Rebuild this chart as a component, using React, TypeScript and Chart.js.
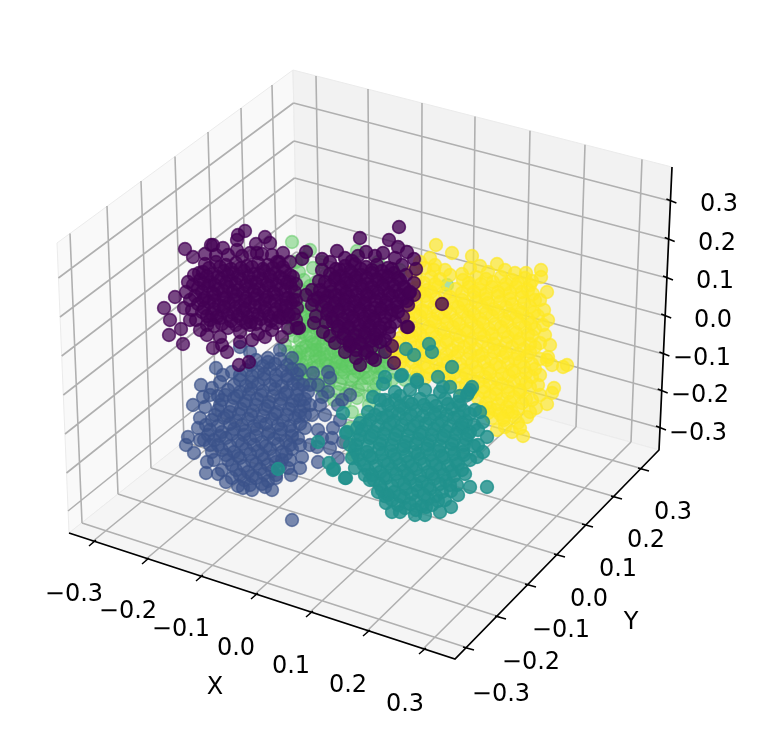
import React, { useEffect, useRef } from "react";
import { Chart, registerables } from "chart.js";

Chart.register(...registerables);

type P = number[];

const xTickLabels = ["\u22120.3", "\u22120.2", "\u22120.1", "0.0", "0.1", "0.2", "0.3"];
const yTickLabels = ["\u22120.3", "\u22120.2", "\u22120.1", "0.0", "0.1", "0.2", "0.3"];
const zTickLabels = ["0.3", "0.2", "0.1", "0.0", "\u22120.1", "\u22120.2", "\u22120.3"];

// projected frame of the 3D box, in picture units
const paneLeft: P[] = [[57, 243], [293, 70], [299, 350], [69, 533]];
const paneRight: P[] = [[293, 70], [672, 167], [659, 450], [299, 350]];
const paneFloor: P[] = [[69, 533], [299, 350], [659, 450], [455, 659]];
const axisPath: P[] = [[69, 533], [455, 659], [659, 450], [672, 167]];

const xTicks: P[] = [[92, 542], [145, 560], [199, 577], [254, 595], [309, 613], [366, 632], [422, 650]];
const yTicks: P[] = [[468, 648], [500, 617], [530, 585], [559, 555], [587, 525], [616, 497], [643, 469]];
const zTicks: P[] = [[670.4, 201], [668.7, 239.5], [667, 278], [665.2, 316], [663.4, 354], [661.7, 391], [660, 428]];

const leftTop: P[] = [[70, 233.5], [107, 206], [141, 181], [175, 156.5], [208, 132], [241, 108], [272, 85]];
const leftBottom: P[] = [[82, 523], [118, 494], [151, 468], [184, 442], [216, 416], [248, 391], [279, 366]];
const rightTop: P[] = [[316, 76], [368, 89], [422, 103], [475, 116.6], [530, 130.7], [585, 144.8], [642, 159.4]];
const rightBottom: P[] = [[321, 356], [370, 370], [421, 384], [472, 398], [524, 413], [576, 427], [631, 442]];
const zLeftEdge: P[] = [[58.4, 278], [60, 317], [61.7, 356], [63.3, 395], [65, 434], [66.5, 473], [68, 511]];
const zBack: P[] = [[293.5, 103], [294, 141], [294.5, 178], [295, 215], [296, 252], [297, 289], [298, 326]];

const xLabelPos: P[] = [[74, 595], [128, 612], [181, 630], [236, 649], [291, 667], [348, 686], [405, 705]];
const yLabelPos: P[] = [[501, 695], [531, 663], [561, 631], [589, 600], [618, 570], [646, 541], [673, 513]];
const zLabelPos: P[] = [[719, 205], [717, 244], [715, 282], [713, 321], [702, 359], [700, 396], [698, 434]];
const xTitlePos: P = [215, 688];
const yTitlePos: P = [631, 623];

const green: P[] = [
  [292,242],[310,250],[303,258],[296,262],[357,251],[322,262],[313,268],[299,272],[304,280],[316,282],[293,285],[326,275],
  [308,292],[298,297],[318,300],[330,292],[305,305],[295,312],[312,315],[325,310],[338,305],[302,325],[315,328],[328,322],
  [342,318],[290,330],[300,340],[312,342],[324,338],[336,334],[350,330],[285,345],[296,352],[308,354],[320,350],[332,348],
  [344,344],[356,340],[370,336],[380,345],[290,362],[302,365],[314,362],[326,360],[338,358],[350,354],[362,350],[374,352],
  [386,356],[298,375],[310,374],[322,372],[334,368],[346,366],[358,362],[370,362],[382,368],[395,372],[318,385],[330,380],
  [342,378],[354,376],[366,372],[378,378],[325,395],[338,392],[350,388],[362,385],[374,390],[345,402],[357,398],[369,405],
  [385,382],[352,412],[362,420],[350,428],[346,442],[353,455],[405,380],[415,378],[447,285],[400,270],[378,262],[288,318],
  [306,335],[318,318],[334,352],[346,356],[358,346],[316,356],[328,366],[340,362],[352,368],[364,358],
];
const greenInner: P[] = [
  [300,290],[312,296],[324,298],[306,312],[318,306],[330,316],[296,325],[308,320],[320,332],[332,328],[344,330],[356,334],
  [294,336],[306,346],[318,342],[330,340],[342,336],[352,342],[364,342],[376,344],[288,352],[300,358],[312,350],[324,354],
  [336,342],[348,348],[360,354],[372,346],[384,350],[294,368],[306,370],[318,366],[330,372],[342,370],[354,358],[366,366],
  [378,358],[390,364],[304,380],[316,378],[328,386],[340,384],[352,380],[364,378],[376,384],[334,400],[346,394],[358,390],
  [370,396],[380,372],[392,380],[310,384],[322,390],
];
const greenCore: P[] = [
  [302,332],[310,336],[318,326],[326,332],[334,324],[340,342],[348,336],[354,346],[362,336],[368,344],[376,338],[383,356],
  [302,348],[314,344],[322,346],[330,354],[338,350],[346,342],[354,352],[362,360],[370,352],[378,350],[390,352],[296,358],
  [306,362],[316,350],[326,364],[336,362],[344,372],[356,368],[366,356],[374,366],[386,362],[300,352],[312,368],[320,358],
  [332,376],[342,364],[350,360],[358,372],[368,378],[378,368],[308,326],[314,308],[322,318],[304,318],[300,308],[310,286],
];

const yellow: P[] = [
  [436,245],[452,253],[472,256],[497,264],[526,273],[541,270],[541,277],[547,292],[435,265],[488,272],[462,274],[543,325],
  [540,343],[548,357],[567,365],[563,367],[547,360],[554,388],[552,393],[547,404],[527,417],[523,436],[512,432],[505,427],
  [518,423],[497,430],[508,412],[490,408],
  [425,268],[434,270],
  [418,279],[431,277],[440,279],[463,280],[476,277],[486,279],[501,277],[512,280],[525,278],[532,281],
  [415,288],[427,290],[438,287],[456,289],[469,287],[480,290],[492,287],[505,289],[516,287],[528,290],
  [413,298],[425,296],[436,299],[450,297],[462,300],[474,297],[486,299],[498,296],[510,299],[522,297],[535,300],
  [410,308],[422,310],[434,307],[446,309],[458,307],[470,310],[482,307],[494,309],[506,307],[518,310],[530,307],
  [408,318],[420,316],[432,319],[444,317],[456,320],[468,317],[480,319],[492,316],[504,319],[516,317],[528,319],[538,316],
  [405,328],[417,330],[429,327],[441,329],[453,327],[465,330],[477,327],[489,329],[501,327],[513,330],[525,327],[535,329],
  [400,338],[412,336],[424,339],[436,337],[448,340],[460,337],[472,339],[484,336],[496,339],[508,337],[520,339],[532,336],
  [392,348],[404,350],[416,347],[428,349],[440,347],[452,350],[464,347],[476,349],[488,347],[500,350],[512,347],[524,349],[535,347],
  [395,358],[407,356],[419,359],[431,357],[443,360],[455,357],[467,359],[479,356],[491,359],[503,357],[515,359],[527,356],[540,359],
  [404,368],[416,370],[428,367],[440,369],[452,367],[464,370],[476,367],[488,369],[500,367],[512,370],[524,367],[535,369],
  [425,378],[437,376],[449,379],[461,377],[473,380],[485,377],[497,379],[509,376],[521,379],[532,377],
  [460,388],[472,390],[484,387],[496,389],[508,387],[520,390],[530,387],
  [478,398],[490,396],[502,399],[514,397],[526,399],
  [483,408],[495,410],[507,407],[518,409],
  [492,418],[504,420],[515,417],
];
const yellowInner: P[] = [
  [424,283],[435,284],[469,283],[481,284],[493,282],[506,284],[518,283],[530,285],
  [420,293],[431,292],[445,294],[462,293],[474,292],[486,294],[498,292],[510,293],[522,292],[533,294],
  [416,303],[428,302],[440,304],[452,303],[464,304],[476,302],[488,303],[500,302],[512,304],[524,303],
  [414,313],[426,312],[438,314],[450,313],[462,312],[474,314],[486,313],[498,312],[510,314],[522,313],[534,312],
  [411,323],[423,324],[435,322],[447,323],[459,324],[471,322],[483,323],[495,324],[507,322],[519,323],[531,324],
  [408,333],[420,334],[432,332],[444,333],[456,334],[468,332],[480,333],[492,334],[504,332],[516,333],[528,334],
  [398,343],[410,342],[422,344],[434,343],[446,342],[458,344],[470,343],[482,342],[494,344],[506,343],[518,342],[530,344],
  [398,353],[410,354],[422,352],[434,353],[446,354],[458,352],[470,353],[482,354],[494,352],[506,353],[518,354],[530,352],
  [400,363],[412,362],[424,364],[436,363],[448,362],[460,364],[472,363],[484,362],[496,364],[508,363],[520,362],[532,364],
  [418,373],[430,374],[442,372],[454,373],[466,374],[478,372],[490,373],[502,374],[514,372],[526,373],
  [450,383],[466,384],[478,382],[490,383],[502,384],[514,382],[526,383],
  [472,393],[484,392],[496,394],[508,393],[520,392],
  [486,403],[498,404],[510,402],[522,403],
  [488,413],[500,414],[512,412],
];
const yellowFringe: P[] = [
  [540,300],[544,310],[548,320],[545,335],[550,345],[552,365],[540,375],[538,385],[532,400],[540,395],[450,275],[505,270],
  [515,273],[470,268],[480,266],[445,270],[430,258],[420,262],[536,408],[530,412],[520,428],[503,418],[412,272],
];

const blue: P[] = [
  [292,520],[193,405],[201,385],[216,368],[186,445],[188,437],[194,453],[200,418],[198,428],[206,473],[218,474],[207,462],
  [243,488],[265,487],[291,475],[302,457],[282,460],[318,462],[338,458],[317,447],[343,442],[332,438],[333,428],[322,397],
  [330,378],[313,373],[328,372],[350,395],[298,438],[268,358],[240,347],[212,388],[203,397],[223,375],
  [310,385],[320,405],[312,415],[325,415],[305,428],[318,430],[340,420],[310,445],[300,400],
  [256,360],[268,362],[280,359],
  [246,370],[258,372],[270,369],[282,371],[292,369],
  [240,380],[252,382],[264,379],[276,381],[288,379],[298,382],
  [228,390],[240,392],[251,389],[263,391],[275,389],[287,392],[298,389],
  [222,400],[234,398],[246,401],[257,399],[269,402],[281,399],[293,401],[305,399],
  [218,410],[230,412],[241,409],[253,411],[265,409],[277,412],[289,409],[300,411],
  [212,420],[224,418],[236,421],[248,419],[260,422],[272,419],[283,421],[295,418],
  [210,430],[222,432],[234,429],[245,431],[257,429],[269,432],[281,429],[292,431],
  [214,440],[226,438],[238,441],[250,439],[262,442],[274,439],[286,441],
  [222,450],[234,452],[246,449],[258,451],[270,449],[282,452],[292,449],
  [228,460],[240,458],[252,461],[264,459],[276,462],
  [236,470],[248,472],[260,469],[272,471],
  [244,480],[256,478],[268,481],
];
const blueInner: P[] = [
  [251,365],[263,366],[275,364],[287,365],
  [240,375],[252,376],[264,374],[276,375],[287,376],[297,374],
  [234,385],[246,386],[258,384],[270,385],[282,386],[293,384],[303,385],
  [225,395],[237,396],[249,394],[261,395],[273,396],[285,394],[297,395],
  [220,405],[232,406],[244,404],[256,405],[268,406],[280,404],[292,405],[304,406],
  [215,415],[227,416],[239,414],[251,415],[263,416],[275,414],[287,415],[299,416],
  [206,425],[218,426],[230,424],[242,425],[254,426],[266,424],[278,425],[290,426],[300,424],
  [208,435],[220,436],[232,434],[244,435],[256,436],[268,434],[280,435],[292,436],
  [218,445],[230,446],[242,444],[254,445],[266,446],[278,444],[290,445],
  [226,455],[238,456],[250,454],[262,455],[274,456],[286,454],
  [232,465],[244,466],[256,464],[268,465],[280,466],
  [240,475],[252,476],[264,474],[276,475],
  [250,485],[262,484],
];
const blueFringe: P[] = [
  [205,407],[210,395],[220,382],[232,372],[210,445],[204,440],[214,460],[222,470],[232,478],[290,460],[300,445],[305,415],
  [310,405],[308,392],[300,370],[292,358],[280,350],[250,352],[218,396],[200,440],[212,452],[226,482],[238,486],[276,478],
  [288,468],[300,468],[252,490],[272,490],[318,385],[328,392],[338,405],[330,448],[322,438],[342,400],
];

const teal: P[] = [
  [487,487],[470,487],[465,474],[457,485],[451,491],[451,507],[440,512],[415,515],[392,512],[385,496],[346,478],[355,468],
  [365,475],[347,432],[343,413],[334,469],[360,423],[373,397],[385,400],[400,396],[385,377],[383,384],[401,376],[417,382],
  [438,377],[443,387],[470,390],[467,395],[480,412],[483,422],[487,437],[483,452],[477,457],[463,428],
  [429,344],[432,352],[414,355],[406,349],[452,367],[417,380],[450,387],[472,387],[468,393],[402,375],
  [278,469],[346,433],[318,442],[329,463],[333,470],[345,478],
  [395,400],[408,402],[420,399],[432,401],[445,399],[458,402],
  [380,410],[392,412],[404,409],[416,411],[428,409],[440,412],[452,409],[464,411],
  [370,420],[382,418],[394,421],[406,419],[418,422],[430,419],[442,421],[454,418],[466,421],
  [362,430],[374,432],[386,429],[398,431],[410,429],[422,432],[434,429],[446,431],[458,429],[470,432],
  [358,440],[370,438],[382,441],[394,439],[406,442],[418,439],[430,441],[442,438],[454,441],[466,439],
  [355,450],[367,452],[379,449],[391,451],[403,449],[415,452],[427,449],[439,451],[451,449],[463,452],
  [360,460],[372,458],[384,461],[396,459],[408,462],[420,459],[432,461],[444,458],[456,461],
  [368,470],[380,472],[392,469],[404,471],[416,469],[428,472],[440,469],[452,471],
  [374,480],[386,478],[398,481],[410,479],[422,482],[434,479],[446,481],
  [382,490],[394,492],[406,489],[418,491],[430,489],[442,492],
  [392,500],[404,498],[416,501],[428,499],[438,501],
  [405,508],[416,510],[426,507],
];
const tealInner: P[] = [
  [388,405],[400,406],[412,404],[424,405],[436,406],[448,404],[460,405],
  [375,415],[387,416],[399,414],[411,415],[423,416],[435,414],[447,415],[459,416],[470,414],
  [366,425],[378,426],[390,424],[402,425],[414,426],[426,424],[438,425],[450,426],[462,424],[474,425],
  [360,435],[372,436],[384,434],[396,435],[408,436],[420,434],[432,435],[444,436],[456,434],[468,435],
  [356,445],[368,446],[380,444],[392,445],[404,446],[416,444],[428,445],[440,446],[452,444],[464,445],[474,446],
  [358,455],[370,456],[382,454],[394,455],[406,456],[418,454],[430,455],[442,456],[454,454],[464,455],
  [364,465],[376,466],[388,464],[400,465],[412,466],[424,464],[436,465],[448,466],[458,464],
  [372,475],[384,476],[396,474],[408,475],[420,476],[432,474],[444,475],[454,476],
  [380,485],[392,486],[404,484],[416,485],[428,486],[440,484],[450,485],
  [388,495],[400,496],[412,494],[424,495],[436,496],
  [398,505],[410,504],[422,506],[432,505],
];
const tealFringe: P[] = [
  [352,458],[350,445],[357,428],[368,412],[380,400],[395,392],[410,390],[425,390],[440,392],[460,396],[475,410],[478,430],
  [478,445],[470,460],[462,470],[370,480],[378,492],[386,503],[400,512],[425,515],[445,500],[458,495],
];

const purpleLeft: P[] = [
  [185,249],[193,257],[211,245],[213,245],[245,231],[238,235],[237,240],[265,237],[270,243],[256,244],[223,248],[237,250],
  [250,253],[257,253],[283,253],[199,273],[194,275],[193,285],[175,297],[190,300],[164,308],[170,320],[190,320],[181,329],
  [169,335],[183,344],[207,325],[207,335],[220,337],[213,348],[222,345],[227,352],[239,365],[249,362],[265,337],[282,337],
  [250,325],[228,328],[287,317],[297,328],[293,300],[293,277],[277,262],
  [205,264],[216,262],[226,265],[236,263],[247,266],[258,263],[268,265],[279,262],
  [203,272],[213,274],[224,271],[233,273],[244,271],[254,274],[264,271],[275,273],[285,271],
  [200,280],[210,282],[221,279],[231,281],[241,279],[251,282],[262,279],[272,281],[283,279],[290,282],
  [198,288],[208,286],[218,289],[228,287],[238,290],[249,287],[259,289],[269,286],[280,289],[291,287],
  [195,296],[205,298],[215,295],[226,297],[236,295],[246,298],[257,295],[267,297],[277,295],[288,298],
  [198,304],[209,302],[219,305],[229,303],[240,306],[250,303],[260,305],[270,302],[281,305],[291,303],
  [202,312],[212,314],[223,311],[233,313],[243,311],[253,314],[264,311],[274,313],[284,311],[294,314],
  [210,320],[220,318],[231,321],[241,319],[251,322],[261,319],[271,321],[282,318],
];
const purpleLeftInner: P[] = [
  [209,268],[220,267],[231,269],[241,268],[252,267],[263,269],[273,268],[283,267],
  [207,276],[218,277],[228,275],[238,276],[249,277],[259,275],[270,276],[280,277],[290,275],
  [204,284],[215,285],[226,283],[236,284],[246,285],[256,283],[267,284],[277,285],[287,283],[296,284],
  [202,292],[213,293],[223,291],[233,292],[243,293],[254,291],[264,292],[274,293],[285,291],[295,292],
  [203,300],[214,301],[224,299],[234,300],[245,301],[255,299],[265,300],[275,301],[286,299],[296,300],
  [204,308],[214,309],[224,307],[235,308],[245,309],[255,307],[265,308],[276,309],[286,307],[297,308],
  [207,316],[217,317],[228,315],[238,316],[248,317],[258,315],[269,316],[279,317],[289,315],
  [222,324],[236,325],[246,323],[256,324],[266,325],[276,323],
];
const purpleLeftFringe: P[] = [
  [205,254],[216,255],[228,255],[242,256],[262,254],[272,255],[290,262],[188,282],[186,292],[184,308],[192,310],[196,320],
  [200,330],[214,326],[240,332],[258,334],[272,330],[288,328],[296,320],[240,342],[252,340],
];

const purpleRight: P[] = [
  [399,227],[360,238],[337,251],[306,252],[302,259],[322,259],[366,252],[389,240],[398,247],[407,252],[383,253],[414,259],
  [416,269],[352,261],[336,269],[319,281],[312,290],[306,295],[414,283],[414,295],[403,317],[407,327],[390,327],[389,333],
  [314,323],[299,328],[323,332],[335,343],[350,345],[365,353],[356,358],[375,360],[394,363],[442,304],[408,327],
  [345,266],[355,264],[366,267],[377,265],[388,268],
  [330,274],[340,276],[351,273],[361,275],[372,273],[383,276],[394,273],
  [325,282],[335,280],[346,283],[356,281],[367,284],[378,281],[389,283],[400,280],
  [320,290],[331,292],[341,289],[352,291],[362,289],[373,292],[384,289],[395,291],[405,289],
  [318,298],[328,296],[339,299],[349,297],[360,300],[370,297],[381,299],[392,296],[403,299],
  [322,306],[333,308],[344,305],[354,307],[365,305],[375,308],[386,305],[397,307],
  [327,314],[338,312],[348,315],[359,313],[370,316],[380,313],[391,315],
  [333,322],[344,324],[354,321],[365,323],[375,321],[385,324],
  [338,330],[349,328],[360,331],[370,329],[380,331],
  [343,338],[354,340],[365,337],[376,339],
  [350,346],[361,344],[372,347],
];
const purpleRightInner: P[] = [
  [340,270],[350,271],[361,269],[372,270],[382,271],[392,269],
  [335,278],[346,279],[356,277],[367,278],[377,279],[388,277],[398,278],
  [330,286],[341,287],[351,285],[362,286],[372,287],[383,285],[394,286],[404,287],
  [323,294],[336,295],[346,293],[357,294],[367,295],[378,293],[389,294],[400,295],[409,293],
  [325,302],[335,303],[345,301],[355,302],[365,303],[376,301],[386,302],[397,303],[407,301],
  [328,310],[339,311],[349,309],[360,310],[370,311],[381,309],[392,310],
  [332,318],[343,319],[353,317],[364,318],[374,319],[385,317],
  [338,326],[349,327],[359,325],[370,326],[380,327],
  [344,334],[355,335],[365,333],[375,334],
  [349,342],[360,343],[371,341],[380,342],
  [356,350],[367,351],
];
const purpleRightFringe: P[] = [
  [312,305],[316,316],[395,322],[398,312],[408,305],[410,292],[406,275],[402,265],[395,258],[375,256],[358,256],[345,258],
  [330,262],[322,270],[314,300],[326,322],[330,336],[385,340],[392,346],[345,352],[385,352],[372,358],[360,365],
];

const labelsPlugin = {
  id: "boxLabels",
  afterDraw(chart: any) {
    const { ctx, scales } = chart;
    const put = (text: string, p: P) =>
      ctx.fillText(text, scales.x.getPixelForValue(p[0]), scales.y.getPixelForValue(p[1]));
    ctx.save();
    ctx.fillStyle = "#000000";
    ctx.font = '24px "DejaVu Sans"';
    ctx.textAlign = "center";
    ctx.textBaseline = "middle";
    xTickLabels.forEach((t, i) => put(t, xLabelPos[i]));
    yTickLabels.forEach((t, i) => put(t, yLabelPos[i]));
    zTickLabels.forEach((t, i) => put(t, zLabelPos[i]));
    put("X", xTitlePos);
    put("Y", yTitlePos);
    ctx.restore();
  },
};

const toXY = (p: P) => ({ x: p[0], y: p[1] });
const gap = { x: NaN, y: NaN };
const segments = (a: P[], b: P[]) => a.flatMap((p, i) => [toXY(p), toXY(b[i]), gap]);
const tickSegments = (pts: P[], d0: P, d1: P) =>
  pts.flatMap((p) => [{ x: p[0] + d0[0], y: p[1] + d0[1] }, { x: p[0] + d1[0], y: p[1] + d1[1] }, gap]);

export default function App() {
  const ref = useRef<HTMLCanvasElement>(null);
  useEffect(() => {
    document.body.style.margin = "0";
    const pane = (pts: P[], fill: string) => ({
      data: [...pts, pts[0]].map(toXY),
      showLine: true,
      fill: "shape",
      backgroundColor: fill,
      borderColor: "#ebebeb",
      borderWidth: 1,
      pointRadius: 0,
      tension: 0,
    });
    const line = (data: any[], color: string, width: number) => ({
      data,
      showLine: true,
      fill: false,
      borderColor: color,
      borderWidth: width,
      pointRadius: 0,
      tension: 0,
      spanGaps: false,
    });
    const dots = (pts: P[], rgb: string, alpha: number) => ({
      data: pts.map(toXY),
      showLine: false,
      pointRadius: 6.4,
      pointHoverRadius: 6.4,
      pointBorderWidth: 1.6,
      pointBackgroundColor: `rgba(${rgb},${alpha})`,
      pointBorderColor: `rgba(${rgb},${alpha})`,
    });
    const layers: any[] = [
      pane(paneLeft, "#f9f9f9"),
      pane(paneRight, "#f2f2f2"),
      pane(paneFloor, "#f5f5f5"),
      line(
        [
          ...segments(leftTop, leftBottom),
          ...segments(rightTop, rightBottom),
          ...segments(zLeftEdge, zBack),
          ...segments(zBack, zTicks),
          ...segments(xTicks, rightBottom),
          ...segments(leftBottom, yTicks),
        ],
        "#b0b0b0",
        1.6
      ),
      line(axisPath.map(toXY), "#000000", 1.7),
      line(
        [
          ...tickSegments(xTicks, [-3, 4], [4, -2]),
          ...tickSegments(yTicks, [-5, -1], [6, 2]),
          ...tickSegments(zTicks, [-4, -2], [6, 2]),
        ],
        "#000000",
        1.5
      ),
      dots([...green, ...greenInner, ...greenCore], "94,201,98", 0.5),
      dots([...yellow, ...yellowInner, ...yellowFringe], "253,231,37", 0.68),
      dots([...blue, ...blueInner, ...blueFringe], "59,82,139", 0.68),
      dots([...teal, ...tealInner, ...tealFringe], "33,145,140", 0.82),
      dots([...purpleLeft, ...purpleLeftInner, ...purpleLeftFringe], "68,1,84", 0.72),
      dots([...purpleRight, ...purpleRightInner, ...purpleRightFringe], "68,1,84", 0.78),
    ];
    layers.forEach((d, i) => {
      d.order = layers.length - i;
      d.clip = false;
    });
    const chart = new Chart(ref.current as HTMLCanvasElement, {
      type: "scatter",
      data: { datasets: layers },
      options: {
        animation: false,
        responsive: false,
        maintainAspectRatio: false,
        layout: { padding: 0, autoPadding: false },
        events: [],
        plugins: { legend: { display: false }, tooltip: { enabled: false }, title: { display: false } },
        scales: {
          x: { type: "linear", min: 0, max: 761, display: false },
          y: { type: "linear", min: 0, max: 736, reverse: true, display: false },
        },
      },
      plugins: [labelsPlugin],
    } as any);
    return () => chart.destroy();
  }, []);
  return <canvas ref={ref} width={761} height={736} style={{ display: "block", width: 761, height: 736 }} />;
}
